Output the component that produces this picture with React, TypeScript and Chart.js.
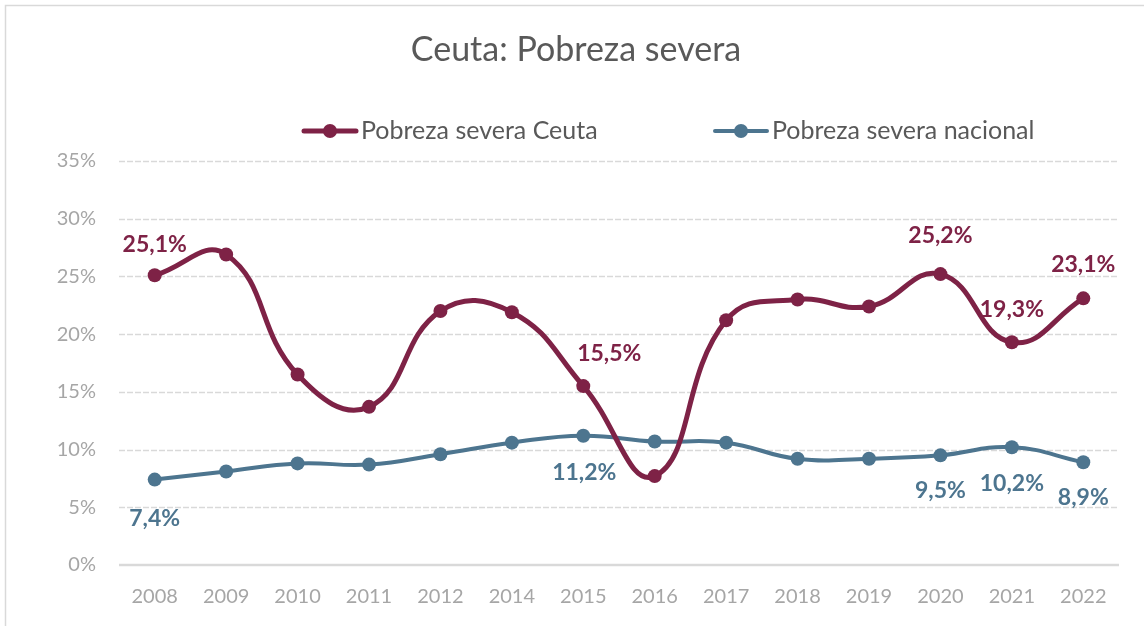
import React, { useEffect, useRef } from "react";
import { Chart, registerables } from "chart.js";

Chart.register(...registerables);

const years = ["2008", "2009", "2010", "2011", "2012", "2014", "2015", "2016", "2017", "2018", "2019", "2020", "2021", "2022"];
const ceuta = [25.1, 26.9, 16.5, 13.7, 22.0, 21.9, 15.5, 7.7, 21.2, 23.0, 22.4, 25.2, 19.3, 23.1];
const nacional = [7.4, 8.1, 8.8, 8.7, 9.6, 10.6, 11.2, 10.7, 10.6, 9.2, 9.2, 9.5, 10.2, 8.9];
const yTicks = [0, 5, 10, 15, 20, 25, 30, 35];
const seriesNames = ["Pobreza severa Ceuta", "Pobreza severa nacional"];
const labelledIdx = [0, 6, 11, 12, 13];

const RED = "#7E2246";
const BLUE = "#4D758F";
const FONT = "Lato, 'Noto Sans', sans-serif";

const fmt = (v: number) => v.toFixed(1).replace(".", ",") + "%";

const labelOffsets: Record<number, [number, number]>[] = [
  { 0: [0, -31], 6: [26, -33], 11: [0, -39], 12: [0, -33], 13: [0, -34] },
  { 0: [0, 39], 6: [1, 37], 11: [0, 35], 12: [0, 36], 13: [0, 35] },
];

const customPlugin = {
  id: "custom",
  beforeDraw(chart: any) {
    const ctx = chart.ctx;
    ctx.save();
    ctx.fillStyle = "#fff";
    ctx.fillRect(0, 0, chart.width, chart.height);
    ctx.strokeStyle = "#D9D9D9";
    ctx.lineWidth = 1.5;
    ctx.strokeRect(5.5, 5.5, chart.width + 50, chart.height + 50);
    // title
    ctx.fillStyle = "#595959";
    ctx.font = `34px ${FONT}`;
    ctx.textAlign = "center";
    ctx.textBaseline = "middle";
    ctx.fillText("Ceuta: Pobreza severa", 576, 50);
    // legend
    const items = [
      { x: 302, color: RED, width: 5 },
      { x: 713, color: BLUE, width: 4 },
    ];
    items.forEach((it, i) => {
      const y = 131;
      ctx.strokeStyle = it.color;
      ctx.lineWidth = it.width;
      ctx.lineCap = "round";
      ctx.beginPath();
      ctx.moveTo(it.x + 2, y);
      ctx.lineTo(it.x + 54, y);
      ctx.stroke();
      ctx.fillStyle = it.color;
      ctx.beginPath();
      ctx.arc(it.x + 28, y, 7, 0, Math.PI * 2);
      ctx.fill();
      ctx.fillStyle = "#595959";
      ctx.font = `25px ${FONT}`;
      ctx.textAlign = "left";
      ctx.textBaseline = "middle";
      ctx.fillText(seriesNames[i], it.x + 59, y);
    });
    ctx.restore();
  },
  beforeDatasetsDraw(chart: any) {
    const ctx = chart.ctx;
    const ys = chart.scales.y;
    const area = chart.chartArea;
    ctx.save();
    yTicks.forEach((t) => {
      const py = Math.round(ys.getPixelForValue(t));
      ctx.beginPath();
      if (t === 0) {
        ctx.setLineDash([]);
        ctx.lineWidth = 2.5;
        ctx.strokeStyle = "#D9D9D9";
        ctx.moveTo(area.left, py);
        ctx.lineTo(area.right, py);
      } else {
        ctx.setLineDash([6, 2]);
        ctx.lineWidth = 1.5;
        ctx.strokeStyle = "#D9D9D9";
        ctx.moveTo(area.left, py + 0.5);
        ctx.lineTo(area.right, py + 0.5);
      }
      ctx.stroke();
    });
    ctx.restore();
  },
  afterDatasetsDraw(chart: any) {
    const ctx = chart.ctx;
    ctx.save();
    ctx.font = `bold 23px ${FONT}`;
    ctx.textAlign = "center";
    ctx.textBaseline = "middle";
    chart.data.datasets.forEach((ds: any, di: number) => {
      const meta = chart.getDatasetMeta(di);
      ctx.fillStyle = ds.borderColor;
      labelledIdx.forEach((i) => {
        const el = meta.data[i];
        const off = labelOffsets[di][i] || [0, 0];
        ctx.fillText(fmt(ds.data[i]), el.x + off[0], el.y + off[1]);
      });
    });
    ctx.restore();
  },
};

export default function App() {
  const ref = useRef<HTMLCanvasElement | null>(null);
  useEffect(() => {
    document.body.style.margin = "0";
    if (!ref.current) return;
    const chart = new Chart(ref.current, {
      type: "line",
      data: {
        labels: years,
        datasets: [
          {
            label: seriesNames[0],
            data: ceuta,
            borderColor: RED,
            backgroundColor: RED,
            borderWidth: 5,
            pointRadius: 7,
            pointBorderWidth: 0,
            pointBackgroundColor: RED,
            tension: 0.45,
            clip: false as any,
          },
          {
            label: seriesNames[1],
            data: nacional,
            borderColor: BLUE,
            backgroundColor: BLUE,
            borderWidth: 4,
            pointRadius: 7,
            pointBorderWidth: 0,
            pointBackgroundColor: BLUE,
            tension: 0.45,
            clip: false as any,
          },
        ],
      },
      options: {
        animation: false,
        responsive: false,
        layout: { padding: { top: 161, right: 25, bottom: 0, left: 0 } },
        plugins: { legend: { display: false }, title: { display: false }, tooltip: { enabled: false } },
        scales: {
          x: {
            offset: true,
            grid: { display: false, drawTicks: false },
            border: { display: false },
            ticks: { color: "#A6A6A6", font: { family: FONT, size: 20 }, padding: 20, maxRotation: 0 },
            afterFit: (s: any) => { s.height = 61; },
          },
          y: {
            min: 0,
            max: 35,
            grid: { display: false, drawTicks: false },
            border: { display: false },
            ticks: {
              stepSize: 5,
              color: "#A6A6A6",
              font: { family: FONT, size: 20 },
              padding: 23,
              callback: (v: any) => v + "%",
            },
            afterFit: (s: any) => { s.width = 119; },
          },
        },
      },
      plugins: [customPlugin],
    });
    return () => chart.destroy();
  }, []);
  return <canvas ref={ref} width={1144} height={626} style={{ display: "block", width: 1144, height: 626 }} />;
}
